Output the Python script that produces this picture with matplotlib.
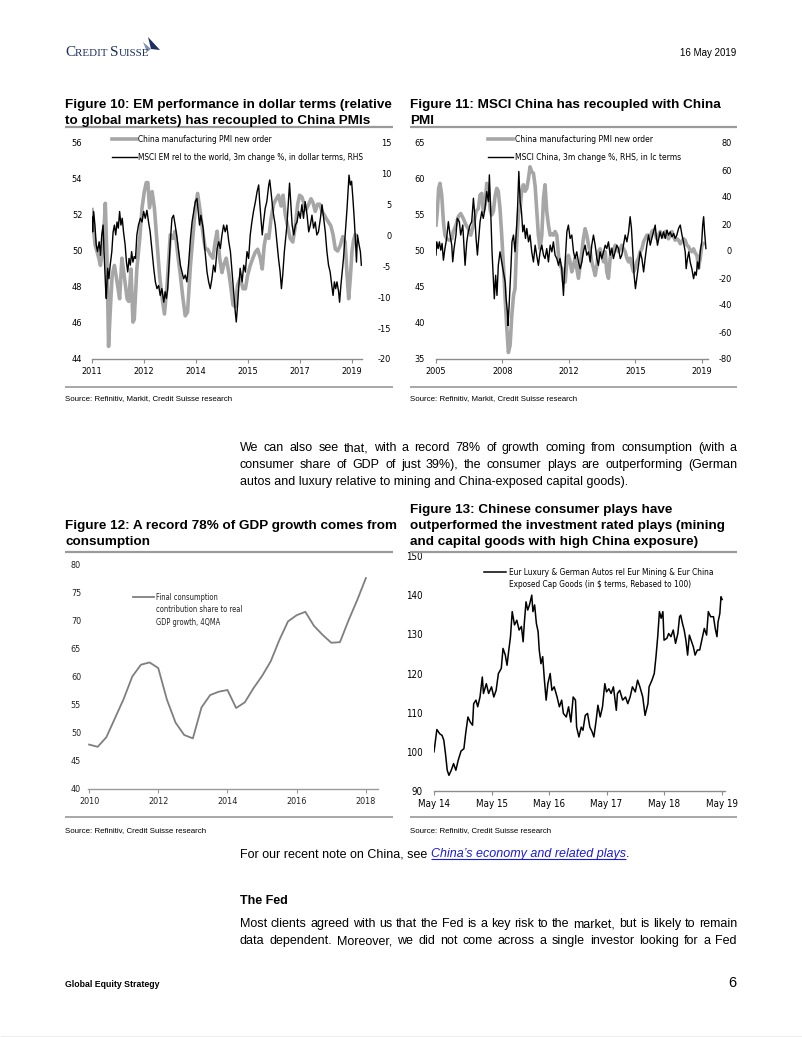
import matplotlib
matplotlib.use('Agg')
import matplotlib.pyplot as plt
from matplotlib.font_manager import FontProperties, findfont
from matplotlib.lines import Line2D
from matplotlib.patches import Polygon
import numpy as np

plt.rcParams['axes.unicode_minus'] = False

# ---------------- DATA ----------------
# Figure 10 (x in fractional years)
f10_pmi_x = [2011.00, 2011.05, 2011.10, 2011.15, 2011.21, 2011.26, 2011.31, 2011.36, 2011.41, 2011.46,
             2011.51, 2011.56, 2011.62, 2011.69, 2011.77, 2011.85, 2011.92, 2011.99, 2012.08, 2012.13,
             2012.20, 2012.26, 2012.30, 2012.38, 2012.47, 2012.54, 2012.61, 2012.67, 2012.72, 2012.77,
             2012.85, 2012.92, 2013.00, 2013.08, 2013.15, 2013.23, 2013.31, 2013.41, 2013.49, 2013.56,
             2013.64, 2013.72, 2013.80, 2013.87, 2013.94, 2014.03, 2014.11, 2014.18, 2014.25, 2014.33,
             2014.42, 2014.49, 2014.56, 2014.64, 2014.72, 2014.79, 2014.85, 2014.93, 2015.00, 2015.05,
             2015.13, 2015.21, 2015.28, 2015.34, 2015.41, 2015.48, 2015.56, 2015.65, 2015.72, 2015.79,
             2015.87, 2015.95, 2016.03, 2016.10, 2016.18, 2016.24, 2016.30, 2016.36, 2016.44, 2016.51,
             2016.59, 2016.67, 2016.74, 2016.82, 2016.88, 2016.95, 2017.02, 2017.10, 2017.18, 2017.26,
             2017.33, 2017.39, 2017.46, 2017.53, 2017.59, 2017.67, 2017.74, 2017.80, 2017.87, 2017.94,
             2018.01, 2018.08, 2018.15, 2018.21, 2018.28, 2018.35, 2018.42, 2018.49, 2018.56, 2018.64,
             2018.72, 2018.79, 2018.85, 2018.90, 2018.95, 2019.00, 2019.05, 2019.10]
f10_pmi_y = [52.3, 51.1, 50.3, 50.0, 49.6, 49.2, 49.95, 50.9, 52.65, 49.6,
             44.7, 46.6, 48.65, 49.2, 48.3, 47.35, 49.6, 48.65, 47.35, 47.2,
             49.0, 46.05, 46.2, 49.0, 50.7, 52.4, 53.3, 53.8, 53.8, 52.4,
             53.3, 52.4, 50.5, 48.65, 47.5, 46.5, 48.1, 50.9, 50.7, 51.1,
             49.8, 48.65, 47.35, 46.4, 46.6, 49.2, 50.9, 52.4, 53.2, 52.2,
             50.9, 50.1, 50.1, 49.8, 49.6, 50.5, 51.1, 49.6, 48.8, 49.2,
             49.6, 48.8, 47.9, 47.0, 46.9, 48.1, 48.5, 47.9, 47.9, 48.65,
             49.2, 49.6, 49.95, 50.1, 49.6, 49.0, 50.3, 50.9, 50.7, 51.8,
             52.6, 52.9, 53.1, 52.5, 53.1, 52.0, 51.4, 50.7, 50.5, 51.4,
             52.6, 53.1, 53.0, 52.6, 52.3, 52.6, 52.9, 52.7, 52.2, 52.6,
             52.6, 52.2, 52.0, 51.8, 51.6, 51.4, 50.9, 50.1, 50.0, 50.3,
             50.8, 50.5, 48.65, 47.35, 48.5, 49.95, 50.6, 50.9]
f10_em_x = [2011.00, 2011.02, 2011.05, 2011.09, 2011.13, 2011.17, 2011.22, 2011.26, 2011.30, 2011.34,
            2011.38, 2011.42, 2011.44, 2011.48, 2011.52, 2011.56, 2011.61, 2011.65, 2011.69, 2011.73,
            2011.77, 2011.81, 2011.85, 2011.89, 2011.93, 2011.97, 2012.02, 2012.06, 2012.10, 2012.14,
            2012.18, 2012.22, 2012.26, 2012.30, 2012.34, 2012.38, 2012.43, 2012.49, 2012.54, 2012.59,
            2012.64, 2012.69, 2012.74, 2012.79, 2012.85, 2012.90, 2012.95, 2013.00, 2013.05, 2013.10,
            2013.15, 2013.21, 2013.25, 2013.29, 2013.33, 2013.37, 2013.41, 2013.46, 2013.51, 2013.56,
            2013.62, 2013.67, 2013.72, 2013.77, 2013.82, 2013.87, 2013.92, 2013.97, 2014.03, 2014.08,
            2014.13, 2014.18, 2014.23, 2014.26, 2014.31, 2014.35, 2014.42, 2014.46, 2014.50, 2014.54,
            2014.59, 2014.64, 2014.69, 2014.74, 2014.79, 2014.85, 2014.90, 2014.95, 2015.00, 2015.05,
            2015.10, 2015.15, 2015.21, 2015.26, 2015.31, 2015.36, 2015.41, 2015.44, 2015.48, 2015.52,
            2015.56, 2015.62, 2015.67, 2015.72, 2015.77, 2015.82, 2015.87, 2015.92, 2015.97, 2016.03,
            2016.08, 2016.13, 2016.16, 2016.20, 2016.24, 2016.28, 2016.33, 2016.38, 2016.44, 2016.47,
            2016.51, 2016.55, 2016.59, 2016.64, 2016.69, 2016.74, 2016.79, 2016.83, 2016.87, 2016.92,
            2016.96, 2017.00, 2017.04, 2017.08, 2017.12, 2017.16, 2017.21, 2017.26, 2017.31, 2017.36,
            2017.41, 2017.46, 2017.51, 2017.56, 2017.62, 2017.67, 2017.72, 2017.77, 2017.82, 2017.87,
            2017.92, 2017.97, 2018.03, 2018.08, 2018.13, 2018.18, 2018.23, 2018.28, 2018.33, 2018.38,
            2018.42, 2018.46, 2018.50, 2018.54, 2018.59, 2018.62, 2018.66, 2018.70, 2018.74, 2018.79,
            2018.85, 2018.89, 2018.91, 2018.95, 2018.99, 2019.03, 2019.07, 2019.11, 2019.14, 2019.17,
            2019.22, 2019.26, 2019.29]
f10_em_y = [3.0, 0.6, 3.9, 1.7, -1.5, -2.6, -1.0, -3.2, 0.1, 1.7,
            -3.7, -8.6, -10.2, -5.3, -7.0, -4.8, -2.6, 0.6, 1.7, 0.1,
            2.2, 1.2, 3.9, 1.7, 2.8, 0.6, -1.5, -4.3, -5.9, -3.7,
            -4.8, -2.6, -4.3, -3.4, -3.7, 0.1, 1.7, 2.8, 2.2, 3.9,
            2.8, 4.1, 2.2, 0.6, -2.6, -5.3, -7.5, -8.6, -8.1, -9.7,
            -8.6, -10.8, -9.1, -10.2, -8.6, -4.8, -1.0, 2.8, 3.3, 1.7,
            -0.5, -2.6, -4.8, -5.9, -7.0, -6.4, -7.5, -4.8, -0.5, 2.2,
            3.9, 5.5, 6.0, 4.4, 1.7, 3.3, 1.2, -1.5, -3.7, -5.9,
            -7.5, -8.6, -7.0, -4.8, -5.9, -2.1, -1.0, -2.1, 0.1, 1.7,
            0.6, 1.7, -1.0, -2.6, -5.9, -9.1, -12.4, -14.0, -11.3, -8.1,
            -5.3, -7.5, -4.8, -5.9, -2.6, -3.7, 0.1, 2.2, 3.9, 5.5,
            7.1, 8.2, 5.5, 2.8, 0.1, 2.2, 4.4, 5.5, 8.2, 9.0,
            7.1, 5.0, 3.3, 1.7, -1.0, -3.7, -5.9, -8.6, -6.4, -2.6,
            -0.5, 1.7, 5.0, 8.5, 5.0, 1.7, 0.1, 1.7, 2.2, 3.9,
            2.8, 5.0, 2.8, 5.5, 3.3, 0.6, 1.7, 3.3, 1.2, 2.2,
            0.1, 0.6, 2.8, 5.0, 2.8, 0.6, -2.6, -4.8, -5.9, -8.1,
            -9.7, -7.5, -8.6, -7.5, -9.1, -10.8, -8.1, -5.9, -3.7, 0.1,
            4.4, 8.2, 9.8, 8.2, 8.8, 6.0, 2.8, -1.0, -4.3, 0.1,
            -1.5, -2.6, -4.8]
f10_xtick_pos = [2011.0, 2012.6, 2014.2, 2015.8, 2017.4, 2019.0]
f10_xtick_lab = ['2011', '2012', '2014', '2015', '2017', '2019']
f10_labels = ['China manufacturing PMI new order',
              'MSCI EM rel to the world, 3m change %, in dollar terms, RHS']

# Figure 11
f11_pmi_x = [2005.00, 2005.07, 2005.14, 2005.21, 2005.30, 2005.39, 2005.47, 2005.56, 2005.70, 2005.83,
             2005.91, 2006.05, 2006.18, 2006.30, 2006.44, 2006.58, 2006.70, 2006.83, 2006.97, 2007.11,
             2007.23, 2007.32, 2007.41, 2007.49, 2007.58, 2007.67, 2007.76, 2007.85, 2007.93, 2008.02,
             2008.11, 2008.20, 2008.28, 2008.37, 2008.46, 2008.55, 2008.64, 2008.72, 2008.81, 2008.90,
             2008.99, 2009.08, 2009.16, 2009.25, 2009.34, 2009.43, 2009.51, 2009.60, 2009.69, 2009.78,
             2009.87, 2009.95, 2010.04, 2010.13, 2010.22, 2010.30, 2010.39, 2010.48, 2010.57, 2010.66,
             2010.74, 2010.83, 2010.92, 2011.01, 2011.10, 2011.18, 2011.27, 2011.36, 2011.45, 2011.53,
             2011.62, 2011.71, 2011.80, 2011.89, 2011.97, 2012.06, 2012.15, 2012.24, 2012.32, 2012.41,
             2012.50, 2012.59, 2012.68, 2012.76, 2012.85, 2012.94, 2013.03, 2013.12, 2013.20, 2013.29,
             2013.38, 2013.47, 2013.55, 2013.64, 2013.73, 2013.82, 2013.91, 2013.99, 2014.08, 2014.17,
             2014.26, 2014.34, 2014.43, 2014.52, 2014.61, 2014.70, 2014.78, 2014.87, 2014.96, 2015.05,
             2015.14, 2015.22, 2015.31, 2015.40, 2015.49, 2015.57, 2015.66, 2015.75, 2015.84, 2015.93,
             2016.01, 2016.10, 2016.19, 2016.28, 2016.36, 2016.45, 2016.54, 2016.63, 2016.72, 2016.80,
             2016.89, 2016.98, 2017.07, 2017.16, 2017.24, 2017.33, 2017.42, 2017.51, 2017.59, 2017.68,
             2017.77, 2017.86, 2017.95, 2018.03, 2018.12, 2018.21, 2018.30, 2018.38, 2018.47, 2018.56,
             2018.65, 2018.74, 2018.82, 2018.91, 2019.00, 2019.09]
f11_pmi_y = [53.6, 55.5, 58.7, 59.4, 57.8, 54.1, 52.2, 51.7, 51.5, 51.7,
             52.7, 53.6, 54.8, 55.2, 54.5, 53.6, 53.1, 52.2, 53.6, 55.5,
             55.9, 57.8, 58.0, 55.5, 56.4, 59.4, 58.7, 55.7, 55.0, 55.5,
             57.6, 58.7, 58.3, 55.9, 52.2, 48.0, 43.4, 39.7, 35.9, 36.9,
             41.0, 43.8, 44.8, 51.3, 55.0, 55.9, 58.3, 59.2, 58.3, 58.7,
             60.1, 61.7, 61.0, 60.8, 59.0, 55.9, 52.2, 50.3, 52.2, 57.3,
             59.2, 55.5, 53.6, 52.2, 52.4, 52.2, 52.7, 52.2, 49.4, 48.0,
             47.6, 45.7, 45.7, 48.5, 49.4, 48.5, 47.1, 48.0, 49.0, 47.6,
             46.2, 48.0, 49.9, 51.7, 53.1, 52.2, 50.8, 49.9, 48.5, 47.6,
             46.6, 48.0, 49.9, 50.3, 49.4, 48.5, 49.9, 47.1, 46.2, 49.0,
             50.3, 49.9, 50.8, 50.3, 49.9, 50.3, 50.8, 50.3, 49.9, 49.0,
             48.5, 49.0, 48.0, 47.1, 47.6, 48.5, 49.0, 49.9, 50.3, 51.3,
             51.7, 52.2, 52.2, 51.7, 52.7, 52.9, 52.4, 51.7, 52.2, 52.7,
             52.2, 52.0, 52.7, 52.2, 51.7, 52.2, 52.7, 52.0, 51.5, 51.7,
             51.5, 51.0, 51.3, 51.7, 51.5, 50.8, 50.6, 50.1, 49.9, 50.3,
             49.7, 49.4, 47.6, 49.0, 50.8, 51.0]
f11_msci_x = [2005.00, 2005.04, 2005.11, 2005.18, 2005.25, 2005.32, 2005.39, 2005.47, 2005.56, 2005.65,
              2005.74, 2005.83, 2005.88, 2005.95, 2006.05, 2006.12, 2006.23, 2006.30, 2006.41, 2006.48,
              2006.53, 2006.62, 2006.70, 2006.79, 2006.88, 2006.97, 2007.04, 2007.11, 2007.18, 2007.25,
              2007.32, 2007.41, 2007.49, 2007.58, 2007.67, 2007.76, 2007.81, 2007.88, 2007.95, 2008.02,
              2008.07, 2008.14, 2008.21, 2008.28, 2008.37, 2008.46, 2008.55, 2008.64, 2008.69, 2008.76,
              2008.79, 2008.85, 2008.90, 2008.95, 2009.00, 2009.08, 2009.16, 2009.25, 2009.30, 2009.36,
              2009.43, 2009.50, 2009.57, 2009.64, 2009.71, 2009.78, 2009.87, 2009.95, 2010.04, 2010.13,
              2010.22, 2010.30, 2010.39, 2010.48, 2010.57, 2010.66, 2010.74, 2010.83, 2010.92, 2011.01,
              2011.10, 2011.18, 2011.27, 2011.36, 2011.45, 2011.53, 2011.62, 2011.71, 2011.76, 2011.83,
              2011.89, 2011.97, 2012.06, 2012.15, 2012.24, 2012.32, 2012.41, 2012.50, 2012.59, 2012.68,
              2012.76, 2012.85, 2012.94, 2013.03, 2013.12, 2013.20, 2013.29, 2013.38, 2013.47, 2013.55,
              2013.64, 2013.73, 2013.82, 2013.91, 2013.99, 2014.08, 2014.17, 2014.26, 2014.34, 2014.43,
              2014.52, 2014.61, 2014.70, 2014.78, 2014.87, 2014.96, 2015.05, 2015.14, 2015.22, 2015.29,
              2015.36, 2015.43, 2015.50, 2015.57, 2015.66, 2015.75, 2015.84, 2015.93, 2016.01, 2016.10,
              2016.19, 2016.28, 2016.36, 2016.45, 2016.54, 2016.59, 2016.66, 2016.73, 2016.80, 2016.89,
              2016.98, 2017.07, 2017.16, 2017.24, 2017.33, 2017.42, 2017.51, 2017.59, 2017.68, 2017.77,
              2017.86, 2017.95, 2018.03, 2018.12, 2018.17, 2018.24, 2018.31, 2018.38, 2018.47, 2018.56,
              2018.63, 2018.70, 2018.77, 2018.84, 2018.91, 2018.99, 2019.04, 2019.09, 2019.14, 2019.21]
f11_msci_y = [-3.0, 6.8, 1.8, 6.8, 0.6, 5.6, -6.8, 1.8, 9.3, 21.7,
              11.8, 4.3, -8.0, 1.8, 11.8, 24.2, 21.7, 11.8, 19.2, 1.8,
              -10.6, 6.8, 14.2, 19.2, 21.7, 39.1, 26.6, 9.3, -3.0, 9.3,
              21.7, 29.1, 24.2, 31.6, 44.0, 36.6, 56.4, 29.1, -0.6, -20.5,
              -35.4, -18.0, -32.9, -10.6, -0.6, -8.1, -15.5, -23.0, -35.4, -45.3,
              -55.2, -40.3, -25.5, -10.6, 6.8, 11.8, -0.6, 19.2, 34.1, 58.9,
              36.6, 29.1, 14.2, 19.2, 9.3, 16.7, 6.8, 11.8, -0.6, -8.1,
              4.3, -3.1, -10.6, -0.6, 4.3, -3.1, -5.6, 1.8, -8.1, 4.3,
              -0.6, 6.8, -3.1, -5.6, -10.6, -5.6, -13.1, -32.9, -18.0, -0.6,
              14.2, 19.2, 9.3, 11.8, -0.6, -5.6, -0.6, -8.1, -13.1, -8.1,
              -0.6, 4.3, -3.1, -0.6, -8.1, 4.3, 11.8, 4.3, -5.6, -10.6,
              -0.6, -5.6, -0.6, 4.3, 1.8, 6.8, -3.1, 1.8, -5.6, -0.6,
              4.3, 1.8, -5.6, -3.1, 4.3, 11.8, 6.8, 14.2, 25.4, 16.7,
              -0.6, -18.0, -27.9, -20.5, -10.6, -0.6, -5.6, -15.5, -5.6, 4.3,
              11.8, 4.3, 9.3, 14.2, 19.2, 11.8, 4.3, 9.3, 14.2, 9.3,
              14.2, 9.3, 15.5, 11.8, 14.2, 10.5, 13.0, 9.3, 11.8, 16.7,
              19.2, 11.8, 6.8, -0.6, -13.1, -5.6, -0.6, -8.1, -13.1, -20.5,
              -15.5, -18.0, -8.1, -13.1, -0.6, 6.8, 19.2, 25.4, 14.2, 1.8]
f11_xtick_pos = [2005.0, 2008.5, 2012.0, 2015.5, 2019.0]
f11_xtick_lab = ['2005', '2008', '2012', '2015', '2019']
f11_labels = ['China manufacturing PMI new order', 'MSCI China, 3m change %, RHS, in lc terms']

# Figure 12 (quarterly, 2010Q1 .. 2018Q1)
f12_start, f12_end = 2010.0, 2018.0
f12_share = [47.9, 47.5, 49.2, 52.6, 56.0, 60.0, 62.1, 62.5, 61.5, 55.9,
             51.8, 49.6, 49.0, 54.5, 56.7, 57.3, 57.6, 54.4, 55.4, 57.9,
             60.1, 62.7, 66.5, 69.8, 70.9, 71.5, 69.0, 67.4, 66.0, 66.1,
             70.0, 73.6, 77.5]
f12_xticks = [2010, 2012, 2014, 2016, 2018]
f12_label = 'Final consumption\ncontribution share to real\nGDP growth, 4QMA'

# Figure 13 (x = years since May 2014)
f13_x = [0.00, 0.03, 0.05, 0.10, 0.14, 0.17, 0.20, 0.23, 0.26, 0.30,
         0.34, 0.38, 0.42, 0.47, 0.52, 0.55, 0.59, 0.63, 0.67, 0.69,
         0.73, 0.76, 0.80, 0.84, 0.86, 0.91, 0.95, 1.00, 1.04, 1.08,
         1.12, 1.17, 1.20, 1.24, 1.27, 1.30, 1.33, 1.36, 1.40, 1.44,
         1.48, 1.52, 1.55, 1.57, 1.60, 1.63, 1.66, 1.70, 1.72, 1.75,
         1.78, 1.81, 1.83, 1.86, 1.89, 1.92, 1.95, 1.98, 2.02, 2.05,
         2.09, 2.14, 2.18, 2.22, 2.25, 2.30, 2.34, 2.38, 2.42, 2.46,
         2.48, 2.52, 2.56, 2.59, 2.63, 2.67, 2.71, 2.75, 2.78, 2.82,
         2.85, 2.89, 2.93, 2.97, 3.00, 3.04, 3.08, 3.12, 3.17, 3.19,
         3.23, 3.28, 3.33, 3.37, 3.41, 3.45, 3.50, 3.54, 3.58, 3.63,
         3.67, 3.72, 3.74, 3.79, 3.83, 3.86, 3.89, 3.92, 3.95, 3.98,
         4.00, 4.05, 4.08, 4.12, 4.16, 4.20, 4.24, 4.27, 4.29, 4.32,
         4.35, 4.38, 4.41, 4.44, 4.47, 4.51, 4.54, 4.58, 4.62, 4.67,
         4.70, 4.74, 4.77, 4.81, 4.86, 4.89, 4.92, 4.94, 4.97, 4.99, 5.01]
f13_y = [100.0, 103.4, 105.7, 104.6, 104.2, 103.0, 99.5, 95.3, 94.0, 95.3,
         97.0, 95.3, 97.8, 100.2, 100.8, 104.6, 108.9, 107.6, 106.8, 112.3,
         113.2, 111.5, 114.0, 119.1, 114.9, 117.4, 114.9, 116.6, 114.0, 115.7,
         120.0, 121.3, 126.4, 124.7, 122.1, 125.9, 129.4, 135.8, 132.4, 133.6,
         131.1, 132.0, 128.1, 132.8, 138.3, 136.2, 137.5, 140.0, 135.8, 137.5,
         132.8, 130.7, 126.0, 122.5, 124.3, 118.3, 113.2, 117.4, 120.0, 115.7,
         116.6, 114.0, 111.5, 113.2, 109.8, 108.9, 111.5, 107.6, 114.0, 113.2,
         106.3, 103.8, 106.3, 105.5, 109.3, 109.8, 106.3, 105.1, 103.8, 108.1,
         111.9, 108.9, 111.5, 117.4, 115.3, 116.1, 114.9, 116.6, 110.6, 114.9,
         115.7, 113.2, 114.0, 112.3, 114.0, 116.6, 115.3, 118.3, 116.6, 114.0,
         109.3, 112.3, 116.6, 118.3, 120.0, 124.3, 129.4, 135.8, 134.1, 135.8,
         128.5, 129.0, 130.2, 129.4, 131.1, 127.7, 130.2, 134.5, 134.9, 132.8,
         131.1, 128.5, 124.7, 129.8, 128.5, 126.8, 124.7, 126.0, 126.0, 129.4,
         131.5, 129.8, 135.8, 134.5, 134.5, 131.5, 129.4, 133.2, 135.3, 139.6, 138.9]
f13_xtick_lab = ['May 14', 'May 15', 'May 16', 'May 17', 'May 18', 'May 19']
f13_label = 'Eur Luxury & German Autos rel Eur Mining & Eur China\nExposed Cap Goods (in $ terms, Rebased to 100)'

# ---------------- FIGURE ----------------
W, H = 802, 1037
fig = plt.figure(figsize=(W / 100, H / 100), dpi=100)
fig.patch.set_facecolor('white')
renderer = fig.canvas.get_renderer()

def have(fam):
    try:
        findfont(FontProperties(family=fam), fallback_to_default=False)
        return True
    except Exception:
        return False

BODY = 'Liberation Sans' if have('Liberation Sans') else 'DejaVu Sans'
SERIF = 'Liberation Serif' if have('Liberation Serif') else 'DejaVu Serif'
# chart font: a narrow sans if one is installed
CH_FP = FontProperties(family=BODY)
if have('Liberation Sans Narrow'):
    CH_FP = FontProperties(family='Liberation Sans Narrow')
else:
    try:
        p = findfont(FontProperties(family='DejaVu Sans', stretch='condensed'), fallback_to_default=False)
        if 'Condensed' in p:
            CH_FP = FontProperties(fname=p)
    except Exception:
        pass

def chfp(size):
    fp = CH_FP.copy()
    fp.set_size(size)
    return fp

def chw(s, size):
    return renderer.get_text_width_height_descent(s, chfp(size), ismath=False)[0]

def chfit(s, target):
    return 10.0 * target / chw(s, 10.0)

def tw(s, size, family=BODY, weight='normal', style='normal'):
    fp = FontProperties(family=family, size=size, weight=weight, style=style)
    w, h, d = renderer.get_text_width_height_descent(s, fp, ismath=False)
    return w

def put(x, yc, s, size, family=BODY, weight='normal', style='normal', color='black', ha='left', fp=None):
    px = size * 100 / 72
    if fp is not None:
        return fig.text(x / W, 1 - (yc + 0.36 * px) / H, s, fontproperties=fp, color=color, ha=ha, va='baseline')
    return fig.text(x / W, 1 - (yc + 0.36 * px) / H, s, fontsize=size, family=family,
                    weight=weight, style=style, color=color, ha=ha, va='baseline')

def hline(x0, x1, y, color='#9a9a9a', lw=1.5):
    fig.add_artist(Line2D([x0 / W, x1 / W], [1 - y / H, 1 - y / H], transform=fig.transFigure,
                          color=color, lw=lw, solid_capstyle='butt'))

def justify(text, x0, x1, yc, size, **kw):
    words = text.split()
    widths = [tw(w, size) for w in words]
    gap = (x1 - x0 - sum(widths)) / (len(words) - 1)
    x = x0
    for w, wd in zip(words, widths):
        put(x, yc, w, size, **kw)
        x += wd + gap

def add_ax(x0, x1, ytop, ybot):
    return fig.add_axes([x0 / W, 1 - ybot / H, (x1 - x0) / W, (ybot - ytop) / H])

def style_ax(ax, gray='#8c8c8c'):
    for s in ['top', 'left', 'right']:
        ax.spines[s].set_visible(False)
    ax.spines['bottom'].set_color(gray)
    ax.spines['bottom'].set_linewidth(1.0)
    ax.set_facecolor('none')

def chart_labels(axes, size, color='black'):
    for a in axes:
        for lab in a.get_xticklabels() + a.get_yticklabels():
            lab.set_fontproperties(chfp(size))
            lab.set_color(color)

# ----- header -----
nav = '#1d2f5f'
parts = [('C', 10.5), ('REDIT ', 7.6), ('S', 10.5), ('UISSE', 7.6)]
tot = sum(tw(p, s, SERIF) for p, s in parts)
k = 84.0 / tot
x = 65
for p, s in parts:
    fig.text(x / W, 1 - 56 / H, p, fontsize=s * k, family=SERIF, color=nav, va='baseline')
    x += tw(p, s * k, SERIF)
fig.add_artist(Polygon([[148 / W, 1 - 37 / H], [160 / W, 1 - 50 / H], [151 / W, 1 - 49 / H]],
                       closed=True, transform=fig.transFigure, color=nav, lw=0))
fig.add_artist(Polygon([[143 / W, 1 - 42 / H], [151 / W, 1 - 49 / H], [147 / W, 1 - 52 / H]],
                       closed=True, transform=fig.transFigure, color='#7f8fb0', lw=0))
put(736, 52, '16 May 2019', 7.0, ha='right')

# ----- titles -----
t1 = 'Figure 10: EM performance in dollar terms (relative'
TS = 10 * 327.0 / tw(t1, 10, weight='bold')
put(65, 103, t1, TS, weight='bold')
put(65, 119, 'to global markets) has recoupled to China PMIs', TS, weight='bold')
put(410, 103, 'Figure 11: MSCI China has recoupled with China', TS, weight='bold')
put(410, 119, 'PMI', TS, weight='bold')
hline(65, 393, 126.5, lw=1.6)
hline(410, 737, 126.5, lw=1.6)

put(65, 524, 'Figure 12: A record 78% of GDP growth comes from', TS, weight='bold')
put(65, 540, 'consumption', TS, weight='bold')
put(410, 508, 'Figure 13: Chinese consumer plays have', TS, weight='bold')
put(410, 524, 'outperformed the investment rated plays (mining', TS, weight='bold')
put(410, 540, 'and capital goods with high China exposure)', TS, weight='bold')
hline(65, 393, 551.5, lw=1.6)
hline(410, 737, 551.5, lw=1.6)

# ----- sources -----
src1 = 'Source: Refinitiv, Markit, Credit Suisse research'
SS = 10 * 166.0 / tw(src1, 10)
hline(65, 393, 387, color='#a0a0a0', lw=1.3)
hline(410, 737, 387, color='#a0a0a0', lw=1.3)
put(65, 397, src1, SS)
put(410, 397, src1, SS)
hline(65, 393, 817, color='#a0a0a0', lw=1.3)
hline(410, 737, 817, color='#a0a0a0', lw=1.3)
put(65, 829, 'Source: Refinitiv, Credit Suisse research', SS)
put(410, 829, 'Source: Refinitiv, Credit Suisse research', SS)

# ----- body text -----
ref_line = 'Most clients agreed with us that the Fed is a key risk to the market, but is likely to remain'
BS = 10 * 490.0 / tw(ref_line, 10)
justify('We can also see that, with a record 78% of growth coming from consumption (with a', 240, 737, 447, BS)
justify('consumer share of GDP of just 39%), the consumer plays are outperforming (German', 240, 737, 464, BS)
put(240, 481, 'autos and luxury relative to mining and China-exposed capital goods).', BS)

s1 = 'For our recent note on China, see '
put(240, 853, s1, BS)
xl = 240 + tw(s1, BS)
link = "China\u2019s economy and related plays"
put(xl, 853, link, BS, style='italic', color='#1a1adb')
lw_ = tw(link, BS, style='italic')
hline(xl, xl + lw_, 858.5, color='#1a1adb', lw=0.8)
put(xl + lw_, 853, '.', BS)

put(240, 900, 'The Fed', BS, weight='bold')
justify(ref_line, 240, 737, 923, BS)
justify('data dependent. Moreover, we did not come across a single investor looking for a Fed', 240, 737, 940, BS)

put(65, 984, 'Global Equity Strategy', 6.3, weight='bold')
put(736, 982, '6', 10.5, ha='right')
hline(0, W, 1036.5, color='#a0a0a0', lw=1.0)

# ----- Figure 10 -----
TICK = 6.6
ax = add_ax(92, 362, 143, 359)
style_ax(ax)
ax.plot(f10_pmi_x, f10_pmi_y, color='#a6a6a6', lw=2.6, solid_joinstyle='round')
ax.set_xlim(2011.0, 2019.31)
ax.set_ylim(44, 56)
ax.set_yticks(np.arange(44, 57, 2))
ax.set_xticks(f10_xtick_pos)
ax.set_xticklabels(f10_xtick_lab)
ax2 = ax.twinx()
style_ax(ax2)
ax2.spines['bottom'].set_visible(False)
ax2.plot(f10_em_x, f10_em_y, color='black', lw=1.0)
ax2.set_ylim(-20, 15)
ax2.set_yticks(np.arange(-20, 16, 5))
ax.tick_params(axis='y', length=0, pad=7)
ax.tick_params(axis='x', length=3, width=0.8, color='#8c8c8c', pad=2.5)
ax2.tick_params(axis='y', length=0, pad=21)
chart_labels([ax, ax2], TICK)
for lab in ax2.get_yticklabels():
    lab.set_ha('right')

LEG10 = chfit(f10_labels[1], 226)
fig.add_artist(Line2D([112 / W, 137 / W], [1 - 139 / H] * 2, transform=fig.transFigure, color='#a6a6a6', lw=2.6))
put(138, 139, f10_labels[0], LEG10, fp=chfp(LEG10))
fig.add_artist(Line2D([112 / W, 137 / W], [1 - 157 / H] * 2, transform=fig.transFigure, color='black', lw=1.0))
put(138, 157, f10_labels[1], LEG10, fp=chfp(LEG10))

# ----- Figure 11 -----
bx = add_ax(436, 708, 143, 359)
style_ax(bx)
bx.plot(f11_pmi_x, f11_pmi_y, color='#a6a6a6', lw=2.6, solid_joinstyle='round')
bx.set_xlim(2005.0, 2019.32)
bx.set_ylim(35, 65)
bx.set_yticks(np.arange(35, 66, 5))
bx.set_xticks(f11_xtick_pos)
bx.set_xticklabels(f11_xtick_lab)
bx2 = bx.twinx()
style_ax(bx2)
bx2.spines['bottom'].set_visible(False)
bx2.plot(f11_msci_x, f11_msci_y, color='black', lw=1.0)
bx2.set_ylim(-80, 80)
bx2.set_yticks(np.arange(-80, 81, 20))
bx.tick_params(axis='y', length=0, pad=8)
bx.tick_params(axis='x', length=3, width=0.8, color='#8c8c8c', pad=2.5)
bx2.tick_params(axis='y', length=0, pad=17)
chart_labels([bx, bx2], TICK)
for lab in bx2.get_yticklabels():
    lab.set_ha('right')
LEG11 = chfit(f11_labels[1], 166)
fig.add_artist(Line2D([488 / W, 513 / W], [1 - 139 / H] * 2, transform=fig.transFigure, color='#a6a6a6', lw=2.6))
put(515, 139, f11_labels[0], LEG11, fp=chfp(LEG11))
fig.add_artist(Line2D([488 / W, 513 / W], [1 - 157 / H] * 2, transform=fig.transFigure, color='black', lw=1.0))
put(515, 157, f11_labels[1], LEG11, fp=chfp(LEG11))

# ----- Figure 12 -----
cx = add_ax(88, 378, 564, 789)
style_ax(cx, gray='#9a9a9a')
f12_x = np.linspace(f12_start, f12_end, len(f12_share))
cx.plot(f12_x, f12_share, color='#7f7f7f', lw=1.3)
cx.set_xlim(2009.97, 2018.35)
cx.set_ylim(40, 80)
cx.set_yticks(np.arange(40, 81, 5))
cx.set_xticks(f12_xticks)
cx.tick_params(axis='y', length=0, pad=5)
cx.tick_params(axis='x', length=3, width=0.8, color='#9a9a9a', pad=3)
chart_labels([cx], 6.5, color='#222222')
LEG12 = chfit('contribution share to real', 86)
fig.add_artist(Line2D([133 / W, 154 / W], [1 - 597 / H] * 2, transform=fig.transFigure, color='#7f7f7f', lw=1.3))
for i, ln in enumerate(f12_label.split('\n')):
    put(156, 597 + 12.5 * i, ln, LEG12, fp=chfp(LEG12), color='#222222')

# ----- Figure 13 -----
dx = add_ax(434, 725, 556, 791)
style_ax(dx)
dx.plot(f13_x, f13_y, color='black', lw=1.1)
dx.set_xlim(0.0, 5.06)
dx.set_ylim(90, 150)
dx.set_yticks(np.arange(90, 151, 10))
dx.set_xticks(np.arange(0, 6, 1))
dx.set_xticklabels(f13_xtick_lab)
dx.tick_params(axis='y', length=0, pad=8)
dx.tick_params(axis='x', length=3, width=0.8, color='#8c8c8c', pad=3)
chart_labels([dx], 7.0)
LEG13 = chfit(f13_label.split('\n')[0], 205)
fig.add_artist(Line2D([484 / W, 506 / W], [1 - 572 / H] * 2, transform=fig.transFigure, color='black', lw=1.1))
for i, ln in enumerate(f13_label.split('\n')):
    put(509, 572 + 12.5 * i, ln, LEG13, fp=chfp(LEG13))

fig.savefig('out.png', dpi=100, facecolor='white')
